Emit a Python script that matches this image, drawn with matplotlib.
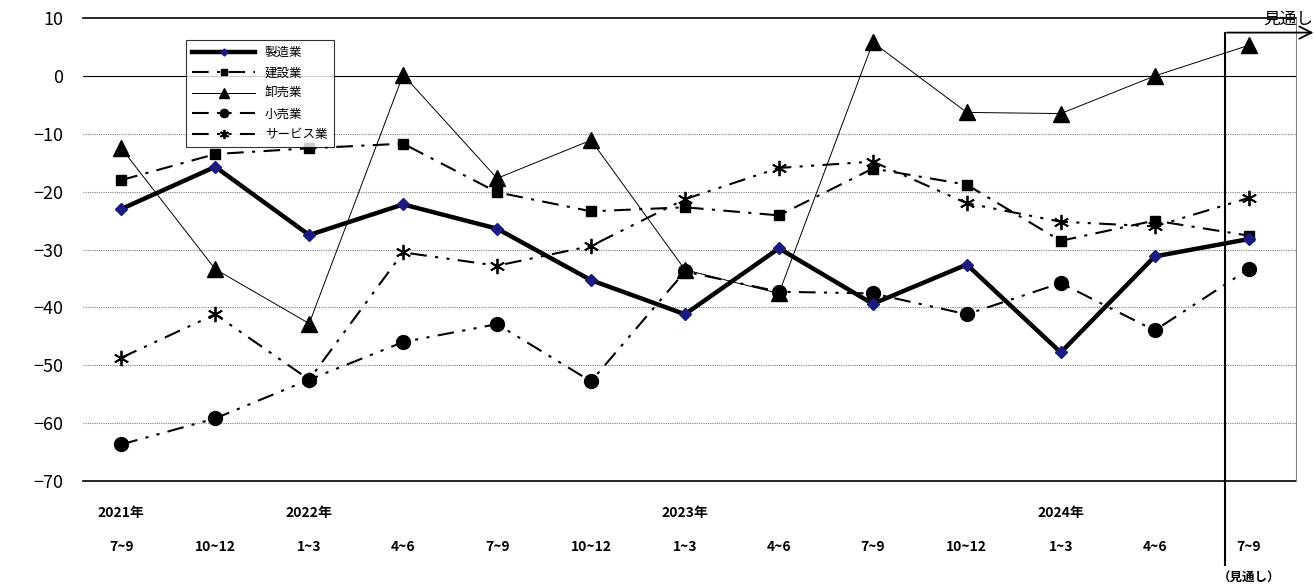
import matplotlib
matplotlib.use("Agg")
import matplotlib.pyplot as plt

plt.rcParams['font.family'] = ['Noto Sans CJK JP', 'DejaVu Sans']

quarters = ["7~9", "10~12", "1~3", "4~6", "7~9", "10~12", "1~3", "4~6", "7~9", "10~12", "1~3", "4~6", "7~9"]
years = {0: "2021年", 2: "2022年", 6: "2023年", 10: "2024年"}
seizo = [-23.0, -15.7, -27.5, -22.2, -26.4, -35.3, -41.2, -29.8, -39.4, -32.6, -47.8, -31.2, -28.2]
kensetsu = [-18.0, -13.5, -12.5, -11.7, -20.1, -23.4, -22.7, -24.1, -16.0, -18.8, -28.5, -25.0, -27.6]
oroshi = [-12.5, -33.4, -42.8, 0.2, -17.7, -11.1, -33.5, -37.6, 5.8, -6.3, -6.5, 0.0, 5.3]
kouri = [-63.7, -59.2, -52.5, -46.0, -42.9, -52.8, -33.8, -37.3, -37.6, -41.2, -35.8, -44.0, -33.4]
service = [-48.7, -41.2, -52.5, -30.5, -32.8, -29.4, -21.3, -15.9, -14.8, -22.0, -25.2, -26.0, -21.1]

fig = plt.figure(figsize=(13.14, 5.85), dpi=100)
ax = fig.add_axes([0.063, 0.178, 0.923, 0.791])
x = list(range(len(quarters)))

ax.plot(x, seizo, color='black', lw=3.2, marker='D', ms=6, mfc='#1a1a80', mec='#1a1a80', label='製造業', zorder=6)
ax.plot(x, kensetsu, color='black', lw=1.5, dashes=(8, 4, 1.5, 4), marker='s', ms=7, label='建設業', zorder=5)
ax.plot(x, oroshi, color='black', lw=0.7, marker='^', ms=11, label='卸売業', zorder=4)
ax.plot(x, kouri, color='black', lw=1.5, dashes=(8, 4, 1.5, 4, 1.5, 4), marker='o', ms=10, label='小売業', zorder=4)
ax.plot(x, service, color='black', lw=1.5, dashes=(8, 4, 1.5, 4, 1.5, 4), marker=(6, 2, 0), ms=11, mew=1.3, label='サービス業', zorder=4)

ax.set_xlim(-0.41, 12.5)
ax.set_ylim(-70, 10)
ax.set_yticks(range(-70, 11, 10))
ax.set_yticklabels([str(v).replace('-', '−') for v in range(-70, 11, 10)], fontsize=13)
for v in range(-60, 10, 10):
    if v == 0:
        ax.axhline(v, color='black', lw=0.8, zorder=1)
    else:
        ax.axhline(v, color='gray', lw=0.8, ls=(0, (1, 1)), zorder=1)
ax.axhline(10, color='black', lw=1.2, zorder=1, clip_on=False)
ax.axhline(-70, color='black', lw=1.2, zorder=1, clip_on=False)
for s in ['left', 'bottom', 'top']:
    ax.spines[s].set_visible(False)
ax.spines['right'].set_color('gray')
ax.tick_params(axis='y', length=0, pad=14)
ax.set_xticks([])

for i, q in enumerate(quarters):
    ax.text(i, -81.5, q, ha='center', va='center', fontsize=10, fontweight='bold')
for i, yl in years.items():
    ax.text(i, -75.5, yl, ha='center', va='center', fontsize=10, fontweight='bold')

# forecast box
ax.plot([11.75, 11.75], [-84.5, 7.5], color='black', lw=1.5, clip_on=False)
ax.annotate('', xy=(12.72, 7.5), xytext=(11.74, 7.5),
            arrowprops=dict(arrowstyle='->', lw=1.3, mutation_scale=22), annotation_clip=False)
ax.text(12.42, 8.3, '見通し', ha='center', va='bottom', fontsize=12, clip_on=False)
ax.text(12.0, -86.8, '（見通し）', ha='center', va='center', fontsize=9, fontweight='bold')

leg = ax.legend(loc='upper left', bbox_to_anchor=(0.08, 0.967), fontsize=9, frameon=True,
                fancybox=False, edgecolor='black', handlelength=5, borderpad=0.5, labelspacing=0.6,
                markerscale=0.6)
leg.get_frame().set_linewidth(0.8)

fig.savefig('out.png', dpi=100)
